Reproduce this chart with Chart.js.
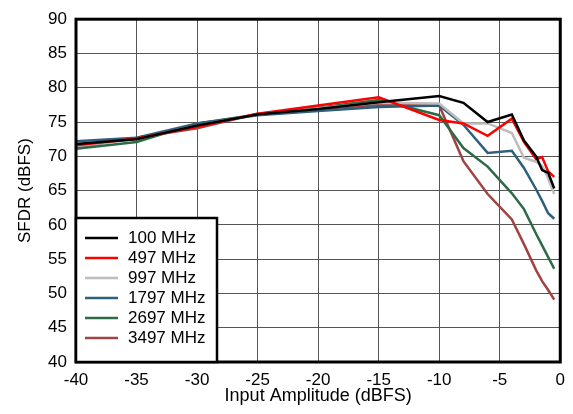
<!DOCTYPE html>
<html>
<head>
<meta charset="utf-8">
<script src="https://cdn.jsdelivr.net/npm/chart.js@4.4.1/dist/chart.umd.min.js"></script>
<style>
  body { margin: 0; background: #fff; }
  canvas { display: block; }
</style>
</head>
<body>
<canvas id="sfdr" width="573" height="414"></canvas>
<script>
// input amplitude points (dBFS)
const amplitude = [-40, -35, -30, -25, -20, -15, -10, -8, -6, -4, -3, -2, -1.5, -1, -0.5];

// SFDR per input frequency (dBFS)
const sfdr100 = [71.8, 72.5, 74.5, 76.1, 76.9, 77.9, 78.8, 77.8, 75.0, 76.1, 72.3, 70.0, 68.0, 67.6, 65.3];
const sfdr497 = [71.6, 72.6, 74.3, 76.2, 77.4, 78.6, 75.3, 74.8, 73.0, 75.5, 72.1, 69.6, 69.9, 67.8, 67.0];
const sfdr997 = [71.5, 72.5, 74.5, 76.1, 77.0, 77.8, 77.7, 74.8, 74.8, 73.4, 69.8, 69.2, 68.6, 66.8, 64.5];
const sfdr1797 = [72.2, 72.7, 74.8, 76.0, 76.6, 77.2, 77.4, 74.6, 70.5, 70.8, 68.3, 65.2, 63.5, 61.7, 60.9];
const sfdr2697 = [71.1, 72.1, 74.8, 76.1, 77.1, 78.2, 76.0, 71.2, 68.5, 64.6, 62.3, 58.7, 57.0, 55.3, 53.6];
const sfdr3497 = [71.3, 72.7, 74.1, 76.2, 76.9, 77.5, 77.4, 69.3, 64.5, 60.8, 57.2, 53.4, 51.8, 50.5, 49.1];

const seriesNames = ['100 MHz', '497 MHz', '997 MHz', '1797 MHz', '2697 MHz', '3497 MHz'];
const seriesValues = [sfdr100, sfdr497, sfdr997, sfdr1797, sfdr2697, sfdr3497];
const seriesColors = ['#000000', '#ff0000', '#bdbdbd', '#2f5f7f', '#2d6b48', '#a04343'];

const xTicks = [-40, -35, -30, -25, -20, -15, -10, -5, 0];
const yTicks = [40, 45, 50, 55, 60, 65, 70, 75, 80, 85, 90];

const FONT = 'Arial, "Liberation Sans", sans-serif';

const datasets = seriesNames.map((name, i) => ({
  label: name,
  data: amplitude.map((a, j) => ({ x: a, y: seriesValues[i][j] })),
  borderColor: seriesColors[i],
  backgroundColor: seriesColors[i],
  borderWidth: 2.5,
  pointRadius: 0,
  tension: 0
}));

// frame around the plot and the legend box in the lower left corner
const framePlugin = {
  id: 'frame',
  afterDraw(chart) {
    const { ctx, chartArea: a } = chart;
    ctx.save();
    ctx.lineWidth = 3;
    ctx.strokeStyle = '#000';
    ctx.strokeRect(a.left, a.top, a.right - a.left, a.bottom - a.top);

    const boxW = 141, rowH = 20;
    const boxH = rowH * seriesNames.length + 24;
    const bx = a.left, by = a.bottom - boxH;
    ctx.fillStyle = '#fff';
    ctx.fillRect(bx, by, boxW, boxH);
    ctx.lineWidth = 2.5;
    ctx.strokeRect(bx, by, boxW, boxH);

    ctx.font = '17px ' + FONT;
    ctx.textBaseline = 'middle';
    seriesNames.forEach((name, i) => {
      const y = by + 20 + i * rowH;
      ctx.strokeStyle = seriesColors[i];
      ctx.lineWidth = 2.5;
      ctx.beginPath();
      ctx.moveTo(bx + 9, y);
      ctx.lineTo(bx + 42, y);
      ctx.stroke();
      ctx.fillStyle = '#000';
      ctx.fillText(name, bx + 52, y);
    });
    ctx.restore();
  }
};

new Chart(document.getElementById('sfdr'), {
  type: 'line',
  data: { datasets },
  options: {
    responsive: false,
    animation: false,
    layout: { padding: { top: 16, right: 10, left: 0, bottom: 0 } },
    plugins: { legend: { display: false }, tooltip: { enabled: false } },
    scales: {
      x: {
        type: 'linear',
        min: -40,
        max: 0,
        afterBuildTicks: s => { s.ticks = xTicks.map(v => ({ value: v })); },
        afterFit: s => { s.height = 52; },
        grid: { color: '#555', lineWidth: 1, drawTicks: false },
        border: { display: false },
        ticks: { color: '#000', font: { size: 17, family: FONT }, padding: 8, maxRotation: 0 },
        title: { display: true, text: 'Input Amplitude (dBFS)', color: '#000', font: { size: 18, family: FONT }, padding: { top: 0, bottom: 7 } }
      },
      y: {
        min: 40,
        max: 90,
        afterBuildTicks: s => { s.ticks = yTicks.map(v => ({ value: v })); },
        afterFit: s => { s.width = 76; },
        grid: { color: '#555', lineWidth: 1, drawTicks: false },
        border: { display: false },
        ticks: { color: '#000', font: { size: 17, family: FONT }, padding: 9 },
        title: { display: true, text: 'SFDR (dBFS)', color: '#000', font: { size: 17, family: FONT }, padding: { top: 15, bottom: 0 } }
      }
    }
  },
  plugins: [framePlugin]
});
</script>
</body>
</html>
